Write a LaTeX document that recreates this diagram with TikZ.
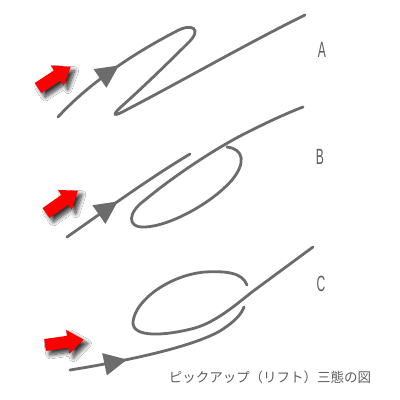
\documentclass[tikz,border=0pt]{standalone}
\usepackage{fontspec}
\setmainfont{Liberation Sans}
\newfontfamily\cjk{Noto Sans CJK JP}
\usetikzlibrary{arrows.meta,decorations.markings,shadows.blur}
\definecolor{wiregray}{RGB}{108,108,108}
\definecolor{pickred}{RGB}{255,0,0}
\definecolor{labelgray}{RGB}{95,95,95}

\newcommand\pickarrow[2]{%
  \begin{scope}[shift={#1}, rotate=#2]
    \fill[pointer] (0,-6) -- (23,-6) -- (23,-12) -- (39,0) -- (23,12) -- (23,6) -- (0,6) -- cycle;
  \end{scope}}

\begin{document}
\begin{tikzpicture}[x=1pt, y=-1pt]
  \tikzset{
    wire/.style={
      draw=wiregray,
      line width=2.8pt,
      line cap=round
    },
    flow/.style={
      postaction={decorate},
      decoration={markings, mark=at position #1 with {\arrow{Triangle[length=23pt,width=22pt]}}}
    },
    pointer/.style={
      fill=pickred,
      blur shadow={shadow xshift=4pt, shadow yshift=-4pt, shadow blur steps=10, shadow blur radius=4pt, shadow opacity=80}
    },
    tag/.style={
      text=labelgray,
      font=\fontsize{22}{22}\selectfont,
      xscale=0.55
    },
    caption/.style={
      text=labelgray,
      font=\cjk\fontsize{13.5}{14}\selectfont
    }
  }

  \fill[white] (0,0) rectangle (400,400);
  \useasboundingbox (0,0) rectangle (400,400);

  \coordinate (a-in) at (58,117);
  \coordinate (a-out) at (305,15);
  \coordinate (b-in) at (67,237);
  \coordinate (b-under) at (190,154);
  \coordinate (b-loop) at (227,147);
  \coordinate (b-out) at (303,107);
  \coordinate (c-in) at (70,370);
  \coordinate (c-under) at (244,307);
  \coordinate (c-loop) at (247,285);
  \coordinate (c-out) at (313,247);

  \draw[wire, flow=80pt] (a-in) .. controls (92,80) and (140,50) .. (175,32)
    .. controls (192,22) and (203,29) .. (188,43)
    .. controls (165,66) and (140,90) .. (122,106)
    .. controls (112,115) and (112,118) .. (128,109)
    .. controls (180,82) and (250,42) .. (a-out);

  \draw[wire, flow=62pt] (b-in) .. controls (110,207) and (150,178) .. (b-under);
  \draw[wire] (b-loop) .. controls (244,149) and (246,163) .. (232,180)
    .. controls (212,203) and (170,226) .. (145,227)
    .. controls (126,228) and (128,212) .. (145,200)
    .. controls (170,179) and (215,148) .. (250,131)
    .. controls (270,121) and (285,114) .. (b-out);

  \draw[wire, flow=58pt] (c-in) .. controls (120,362) and (190,348) .. (220,331)
    .. controls (234,322) and (241,315) .. (c-under);
  \draw[wire] (c-loop) .. controls (242,272) and (225,271) .. (205,272)
    .. controls (170,275) and (135,300) .. (133,322)
    .. controls (132,338) and (165,336) .. (195,328)
    .. controls (215,322) and (232,308) .. (252,292)
    -- (c-out);

  \pickarrow{(38,88)}{33}
  \pickarrow{(46,213)}{35}
  \pickarrow{(45,345)}{8}

  \node[tag] (lab-a) at (322,50) {A};
  \node[tag] (lab-b) at (320,157) {B};
  \node[tag] (lab-c) at (321,284) {C};
  \node[caption] (title) at (270,377) {ピックアップ（リフト）三態の図};
\end{tikzpicture}
\end{document}
